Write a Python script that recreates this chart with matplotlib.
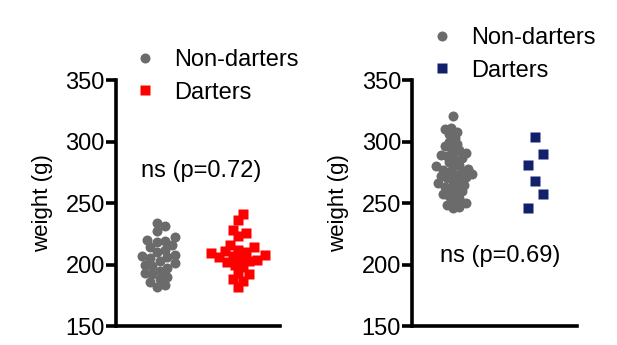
import matplotlib
matplotlib.use('Agg')
import matplotlib.pyplot as plt
from matplotlib.lines import Line2D
import numpy as np

plt.rcParams['font.family'] = ['Liberation Sans', 'DejaVu Sans']

# weights (g)
left_non = [234, 231, 227, 222, 220, 219, 218, 216, 214, 212, 210, 208, 207, 206,
            205, 203, 201, 200, 199, 197, 195, 193, 192, 190, 188, 186, 183, 182]
left_dart = [241, 236, 228, 226, 223, 216, 214, 212, 211, 210, 209, 208, 207, 206,
             205, 204, 203, 202, 200, 198, 193, 192, 188, 187, 182]
right_non = [321, 311, 310, 308, 306, 303, 300, 298, 296, 295, 293, 291, 290, 289,
             288, 287, 285, 283, 281, 280, 279, 278, 277, 276, 275, 274, 273, 272,
             271, 270, 269, 268, 266, 265, 264, 263, 262, 260, 258, 257, 256, 254,
             252, 250, 248, 247, 246]
right_dart = [304, 290, 281, 268, 257, 246]

p_left = 'ns (p=0.72)'
p_right = 'ns (p=0.69)'

GRAY = '#6b6b6b'
RED = '#ff0000'
NAVY = '#121f6b'


def px_scale(ax):
    ax.figure.canvas.draw()
    p0 = ax.transData.transform((0, 0))
    p1 = ax.transData.transform((1, 1))
    return p1[0] - p0[0], p1[1] - p0[1]


def swarm_x(ax, center, values, dist_px):
    """simple beeswarm: offsets in data units so markers don't overlap too much"""
    sx, sy = px_scale(ax)
    placed = []
    offsets = np.zeros(len(values))
    order = np.argsort(values)
    step = dist_px / 3.0
    for i in order:
        y = values[i] * sy
        cands = [0.0]
        for k in range(1, 40):
            cands += [k * step, -k * step]
        for c in cands:
            ok = True
            for (ox, oy) in placed:
                if (c - ox) ** 2 + (y - oy) ** 2 < dist_px ** 2:
                    ok = False
                    break
            if ok:
                placed.append((c, y))
                offsets[i] = c / sx
                break
    return center + offsets


def zigzag_x(ax, center, values, w_px):
    # few points: left / right / middle pattern going up
    sx, sy = px_scale(ax)
    pattern = [-1, 1, 0]
    offsets = np.zeros(len(values))
    for k, i in enumerate(np.argsort(values)):
        offsets[i] = pattern[k % 3] * w_px / sx
    return center + offsets


fig = plt.figure(figsize=(6.17, 3.45), dpi=100)
ax1 = fig.add_axes([0.188, 0.055, 0.266, 0.713])
ax2 = fig.add_axes([0.668, 0.055, 0.267, 0.713])

panels = [
    (ax1, left_non, left_dart, RED, (0.49, 2.52), p_left, (1.54, 276), 7.5),
    (ax2, right_non, right_dart, NAVY, (0.5, 2.51), p_right, (1.57, 207), 6.3),
]

for ax, non, dart, dcol, xl, ptxt, ppos, dn in panels:
    ax.set_xlim(*xl)
    ax.set_ylim(150, 350)
    xn = swarm_x(ax, 1, np.array(non, float), dn)
    if len(dart) > 10:
        xd = swarm_x(ax, 2, np.array(dart, float), 8.0)
    else:
        xd = zigzag_x(ax, 2, np.array(dart, float), 7.5)
    ax.plot(xn, non, 'o', color=GRAY, ms=7.2, mec='none', clip_on=False)
    ax.plot(xd, dart, 's', color=dcol, ms=6.5, mec='none', clip_on=False)

    ax.spines['top'].set_visible(False)
    ax.spines['right'].set_visible(False)
    ax.spines['left'].set_linewidth(2.6)
    ax.spines['bottom'].set_linewidth(2.6)
    ax.set_xticks([])
    ax.set_yticks([150, 200, 250, 300, 350])
    ax.tick_params(axis='y', length=7, width=2.6, labelsize=17, pad=1)
    ax.set_ylabel('weight (g)', fontsize=16, labelpad=9)
    ax.text(ppos[0], ppos[1], ptxt, fontsize=17, ha='center', va='center')

    handles = [
        Line2D([], [], ls='none', marker='o', color=GRAY, ms=7.2, mec='none'),
        Line2D([], [], ls='none', marker='s', color=dcol, ms=6.5, mec='none'),
    ]
    ax.legend(handles, ['Non-darters', 'Darters'], fontsize=17, frameon=False,
              handlelength=1.0, handletextpad=0.75, labelspacing=0.45,
              borderpad=0, borderaxespad=0)

leg1 = ax1.get_legend()
leg1.set_bbox_to_anchor((133 / 617, 1 - 49 / 345), transform=fig.transFigure)
leg1._loc = 2
leg2 = ax2.get_legend()
leg2.set_bbox_to_anchor((430 / 617, 1 - 27 / 345), transform=fig.transFigure)
leg2._loc = 2

plt.savefig('out.png', dpi=100)
